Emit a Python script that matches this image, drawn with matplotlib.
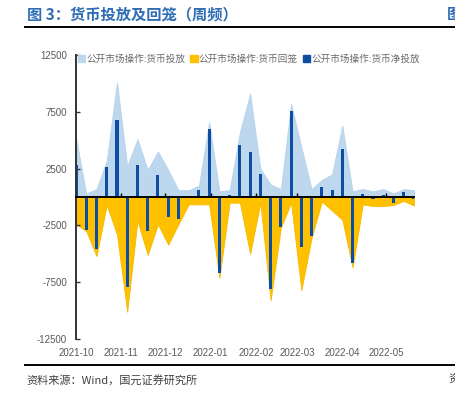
import numpy as np
import pandas as pd
import matplotlib
matplotlib.use("Agg")
import matplotlib.pyplot as plt
import matplotlib.dates as mdates
from matplotlib.patches import Patch

plt.rcParams['font.family'] = ['Liberation Sans', 'Noto Sans CJK SC', 'DejaVu Sans']

# ---------------- data ----------------
dates = pd.date_range("2021-10-01", periods=34, freq="7D")
inject = [5200, 300, 700, 3200, 10100, 2700, 5100, 2400, 4000, 2400,
          600, 600, 1000, 6600, 500, 600, 5700, 9100, 2500, 1100,
          700, 8200, 4400, 700, 1500, 2000, 6300, 500, 700, 500,
          700, 300, 700, 600]
withdraw = [-2400, -3000, -5200, -700, -3300, -10100, -2100, -5100, -2400, -4200,
            -2400, -650, -650, -650, -7100, -500, -500, -5000, -500, -9100,
            -2700, -500, -8200, -3600, -400, -1200, -2000, -6200, -650, -800,
            -800, -700, -350, -750]
net = [2800, -2900, -4600, 2600, 6800, -7900, 2800, -3000, 1900, -1800,
       -1900, 0, 600, 6000, -6700, 150, 4600, 4000, 2000, -8100,
       -2600, 7600, -4400, -3400, 900, 600, 4200, -5800, 250, -200,
       200, -500, 450, -200]
series_names = ["公开市场操作:货币投放", "公开市场操作:货币回笼", "公开市场操作:货币净投放"]
month_ticks = pd.to_datetime(["2021-10-01", "2021-11-01", "2021-12-01", "2022-01-01",
                              "2022-02-01", "2022-03-01", "2022-04-01", "2022-05-01"])
month_labels = ["2021-10", "2021-11", "2021-12", "2022-01",
                "2022-02", "2022-03", "2022-04", "2022-05"]
y_ticks = [12500, 7500, 2500, -2500, -7500, -12500]

title_text = "图 3：货币投放及回笼（周频）"
source_text = "资料来源：Wind，国元证券研究所"

# ---------------- style ----------------
c_light = "#BDD7EE"
c_orange = "#FFC000"
c_bar = "#0D4EA3"
c_title = "#2F6DB5"
c_text = "#595959"

W, H = 455, 393
fig = plt.figure(figsize=(W / 100, H / 100), dpi=100)
ax = fig.add_axes([76 / W, 1 - 339 / H, (414 - 76) / W, (339 - 55) / H])

x = mdates.date2num(dates)
ax.fill_between(x, 0, inject, color=c_light, lw=0.6, edgecolor="#B7D3EC", zorder=1)
ax.fill_between(x, withdraw, 0, color=c_orange, lw=0.6, edgecolor="#F7B900", zorder=1.5)
ax.bar(x, net, width=2.1, color=c_bar, zorder=2)

ax.set_xlim(x[0], x[-1])
ax.set_ylim(-12500, 12500)

for s in ["top", "right"]:
    ax.spines[s].set_visible(False)
ax.spines["left"].set_color("#333333")
ax.spines["left"].set_linewidth(1.4)
ax.spines["bottom"].set_position(("data", 0))
ax.spines["bottom"].set_color("black")
ax.spines["bottom"].set_linewidth(1.4)
ax.spines["bottom"].set_zorder(3)

ax.set_yticks(y_ticks)
ax.set_yticklabels([str(v) for v in y_ticks])
ax.tick_params(axis="y", direction="in", length=3, width=1, color="#333333",
               labelsize=7, labelcolor=c_text, pad=6.5)
ax.set_xticks(mdates.date2num(month_ticks))
ax.tick_params(axis="x", direction="in", length=3, width=1, color="black",
               labelbottom=False)

sec = ax.secondary_xaxis("bottom")
sec.set_xticks(mdates.date2num(month_ticks))
sec.set_xticklabels(month_labels)
sec.tick_params(axis="x", length=0, labelsize=7, labelcolor=c_text, pad=6.5)
sec.spines["bottom"].set_visible(False)

handles = [Patch(facecolor=c_light, edgecolor=c_light),
           Patch(facecolor=c_orange, edgecolor=c_orange),
           Patch(facecolor=c_bar, edgecolor=c_bar)]
leg = ax.legend(handles, series_names, loc="upper left", bbox_to_anchor=(0.003, 1.005),
                ncol=3, frameon=False, handlelength=0.75, handleheight=0.75,
                handletextpad=0.15, columnspacing=0.5, borderaxespad=0, borderpad=0.1,
                prop={"family": ["Noto Sans CJK SC"], "size": 6.9})
for t in leg.get_texts():
    t.set_color("#6A6A6A")

# header / footer
fig.text(27 / W, 1 - 14 / H, title_text, color=c_title, fontsize=11, fontweight="bold",
         family=["Noto Sans CJK SC"], va="center", ha="left")
fig.text(447 / W, 1 - 14 / H, "图", color=c_title, fontsize=11, fontweight="bold",
         family=["Noto Sans CJK SC"], va="center", ha="left")
fig.add_artist(plt.Line2D([25 / W, 428 / W], [1 - 27 / H, 1 - 27 / H], color="black", lw=1.4))
fig.add_artist(plt.Line2D([430 / W, 1.0], [1 - 27 / H, 1 - 27 / H], color="black", lw=1.4))
fig.add_artist(plt.Line2D([25 / W, 428 / W], [1 - 365 / H, 1 - 365 / H], color="black", lw=1.4))
fig.add_artist(plt.Line2D([430 / W, 1.0], [1 - 365 / H, 1 - 365 / H], color="black", lw=1.4))
fig.text(26 / W, 1 - 380 / H, source_text, color="#404040", fontsize=8,
         family=["Noto Sans CJK SC"], va="center", ha="left")
fig.text(448 / W, 1 - 380 / H, "资", color="#404040", fontsize=8,
         family=["Noto Sans CJK SC"], va="center", ha="left")

fig.savefig("out.png", dpi=100)
